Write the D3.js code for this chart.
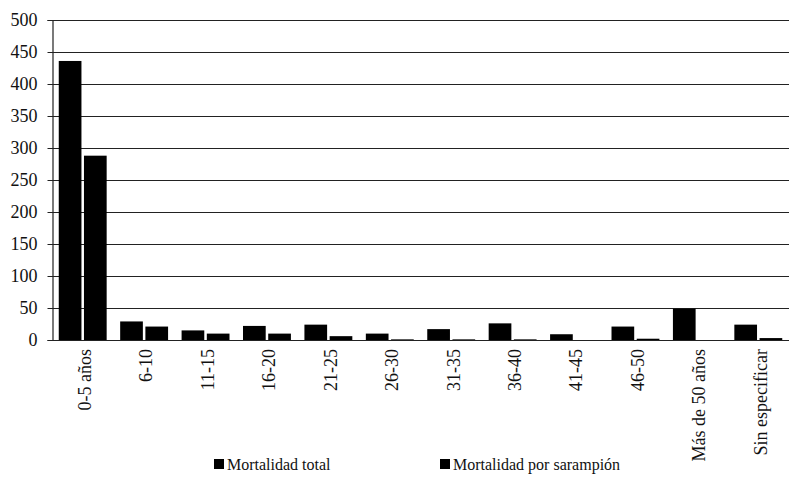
<!DOCTYPE html>
<html>
<head>
<meta charset="utf-8">
<script src="https://cdn.jsdelivr.net/npm/d3@7"></script>
<style>
	body { margin: 0; background: #fff; }
</style>
</head>
<body>
<div id="chart"></div>
<script>
// values
const categories = ["0-5 años", "6-10", "11-15", "16-20", "21-25", "26-30", "31-35", "36-40", "41-45", "46-50", "Más de 50 años", "Sin especificar"];
const seriesNames = ["Mortalidad total", "Mortalidad por sarampión"];
const mortalidadTotal = [436, 29, 15, 22, 24, 10, 17, 26, 9, 21, 49, 24];
const mortalidadSarampion = [288, 21, 10, 10, 6, 1, 1, 1, 0, 2, 0, 3];
const yTicks = [0, 50, 100, 150, 200, 250, 300, 350, 400, 450, 500];

const width = 789, height = 480;
const plotLeft = 52, plotRight = 789, plotTop = 20, plotBottom = 340;
const serif = "'Liberation Serif', 'Times New Roman', 'DejaVu Serif', serif";

const svg = d3.select("#chart")
	.append("svg")
	.attr("width", width)
	.attr("height", height)
	.style("font-family", serif);

let y = d3.scaleLinear().domain([0, 500]).range([plotBottom, plotTop]);

let x0 = d3.scaleBand()
	.domain(categories)
	.range([plotLeft, plotRight])
	.paddingInner(0.22)
	.paddingOuter(0.11);

let x1 = d3.scaleBand()
	.domain(seriesNames)
	.range([0, x0.bandwidth()])
	.paddingInner(0.1);

// gridlines
svg.selectAll("line.grid")
	.data(yTicks)
	.enter().append("line")
	.attr("class", "grid")
	.attr("x1", plotLeft)
	.attr("x2", plotRight)
	.attr("y1", d => Math.round(y(d)) + 0.5)
	.attr("y2", d => Math.round(y(d)) + 0.5)
	.style("stroke", "#222")
	.style("stroke-width", 1.2);

// y axis
let yAxis = d3.axisLeft(y).tickValues(yTicks).tickSize(5).tickPadding(10);
let yg = svg.append("g")
	.attr("transform", "translate(" + (plotLeft + 0.5) + ",0)")
	.call(yAxis)
	.attr("font-family", null)
	.attr("font-size", null);
yg.select(".domain").style("stroke", "#222").style("stroke-width", 1.2);
yg.selectAll(".tick line").style("stroke", "#222");
yg.selectAll("text")
	.style("font-family", serif)
	.style("font-size", "18px")
	.style("fill", "#111")
	.attr("x", -15);

// bars
let rows = categories.map((c, i) => ({
	cat: c,
	values: [
		{ name: seriesNames[0], v: mortalidadTotal[i] },
		{ name: seriesNames[1], v: mortalidadSarampion[i] }
	]
}));

let groups = svg.selectAll("g.cat")
	.data(rows)
	.enter().append("g")
	.attr("class", "cat")
	.attr("transform", d => "translate(" + x0(d.cat) + ",0)");

groups.selectAll("rect")
	.data(d => d.values)
	.enter().append("rect")
	.attr("x", d => x1(d.name))
	.attr("width", x1.bandwidth())
	.attr("y", d => y(d.v))
	.attr("height", d => y(0) - y(d.v))
	.style("fill", "#000");

// x labels, rotated
svg.selectAll("text.xlab")
	.data(categories)
	.enter().append("text")
	.attr("class", "xlab")
	.attr("transform", d => "translate(" + (x0(d) + x0.bandwidth() / 2 + 2) + "," + (plotBottom + 9) + ") rotate(-90)")
	.attr("dy", "0.35em")
	.attr("text-anchor", "end")
	.style("font-family", serif)
	.style("font-size", "18px")
	.style("fill", "#111")
	.text(d => d);

// legend
let legendX = [214, 440];
let legend = svg.selectAll("g.legend")
	.data(seriesNames)
	.enter().append("g")
	.attr("class", "legend")
	.attr("transform", (d, i) => "translate(" + legendX[i] + "," + 470 + ")");

legend.append("rect")
	.attr("x", 0)
	.attr("y", -11)
	.attr("width", 10)
	.attr("height", 10)
	.style("fill", "#000");

legend.append("text")
	.attr("x", 13)
	.attr("y", 0)
	.style("font-family", serif)
	.style("font-size", "16px")
	.style("fill", "#111")
	.text(d => d);
</script>
</body>
</html>
